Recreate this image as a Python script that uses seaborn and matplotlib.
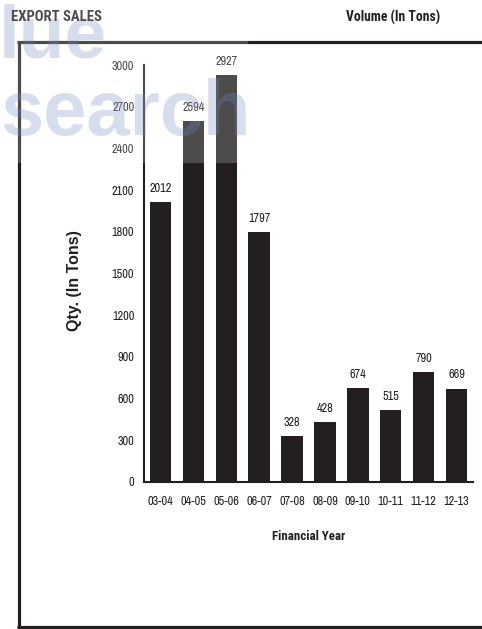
import numpy as np
import pandas as pd
import seaborn as sns
import matplotlib
matplotlib.use("Agg")
import matplotlib.pyplot as plt
from matplotlib.patches import Rectangle
from matplotlib.lines import Line2D

# Export volumes by financial year
years = ["03-04", "04-05", "05-06", "06-07", "07-08",
         "08-09", "09-10", "10-11", "11-12", "12-13"]
volumes = [2012, 2594, 2927, 1797, 328, 428, 674, 515, 790, 669]
y_ticks = [0, 300, 600, 900, 1200, 1500, 1800, 2100, 2400, 2700, 3000]

BAR = "#231f20"
NARROW = ["Liberation Sans Narrow", "Archivo Narrow", "Roboto Condensed",
          "IBM Plex Sans Condensed", "DejaVu Sans"]
NARROW_BOLD = ["Liberation Sans Narrow", "Roboto Condensed",
               "IBM Plex Sans Condensed", "Fira Sans Condensed", "DejaVu Sans"]
WIDE = ["Liberation Sans", "DejaVu Sans"]

sns.set_style("white")
plt.rcParams["font.family"] = NARROW

W, H, DPI = 482, 629, 100
fig = plt.figure(figsize=(W / DPI, H / DPI), dpi=DPI)
fig.patch.set_facecolor("white")

def px(x, y):
    """Image pixel (top-left origin) to figure fraction."""
    return x / W, 1 - y / H

ax = fig.add_axes([144 / W, 1 - 481.7 / H, (473 - 144) / W, (481.7 - 65) / H])

df = pd.DataFrame({"year": years, "volume": volumes})
sns.barplot(data=df, x="year", y="volume", color=BAR, saturation=1,
            width=0.65, ax=ax, zorder=2)
for p in ax.patches:
    p.set_facecolor(BAR)
    p.set_edgecolor("none")

TICK_FS = 8.8
ax.set_xlim(-0.5, len(years) - 0.5)
ax.set_ylim(0, 3000)
ax.set_yticks(y_ticks)
ax.set_yticklabels([str(v) for v in y_ticks], fontsize=TICK_FS, color=BAR,
                   family=NARROW)
ax.set_xticks(range(len(years)))
ax.set_xticklabels(years, fontsize=TICK_FS, color=BAR, family=NARROW)
ax.set_xticks(np.arange(-0.5, len(years)), minor=True)
ax.tick_params(axis="x", which="major", length=0, pad=10)
ax.tick_params(axis="x", which="minor", length=3.5, width=1.5, color=BAR,
               direction="out")
ax.tick_params(axis="y", which="major", length=3, width=2.2, color=BAR,
               direction="out", pad=4)

for side in ("top", "right"):
    ax.spines[side].set_visible(False)
for side in ("left", "bottom"):
    ax.spines[side].set_color(BAR)
    ax.spines[side].set_linewidth(1.5)
ax.grid(False)

ax.set_xlabel("Financial Year", fontsize=9.3, fontweight="bold", color=BAR,
              labelpad=17, family=NARROW_BOLD)
ax.set_ylabel("")

# value labels above the bars
for i, v in enumerate(volumes):
    ax.annotate(str(v), (i, v), xytext=(0, 6), textcoords="offset points",
                ha="center", va="bottom", fontsize=TICK_FS, color=BAR,
                family=NARROW, annotation_clip=False)

# vertical axis title
fig.text(*px(74, 281), "Qty. (In Tons)", rotation=90, ha="center",
         va="center", fontsize=11.5, fontweight="bold", color=BAR,
         family=WIDE)

# faint lettering in the upper-left corner
wash_box = Rectangle((0, 1 - 163 / H), 248 / W, 163 / H,
                     transform=fig.transFigure, facecolor="none",
                     edgecolor="none")
fig.add_artist(wash_box)
mark_kw = dict(ha="left", va="baseline", fontweight="bold", family=WIDE,
               color="#4a6bb0", alpha=0.28, zorder=4)
t1 = fig.text(*px(-1, 58), "lue", fontsize=54, **mark_kw)
t2 = fig.text(*px(0, 135), "search", fontsize=56, **mark_kw)
for t in (t1, t2):
    t.set_clip_path(wash_box)

# header texts
fig.text(*px(11, 17), "EXPORT SALES", ha="left", va="center",
         fontsize=10.5, fontweight="bold", color=BAR, family=NARROW_BOLD,
         zorder=5)
fig.text(*px(440, 17), "Volume (In Tons)", ha="right", va="center",
         fontsize=9.8, fontweight="bold", color=BAR, family=NARROW_BOLD,
         zorder=5)

# page frame: top, left, bottom rules
frame_kw = dict(color=BAR, linewidth=2.3, transform=fig.transFigure,
                solid_capstyle="butt", zorder=3)
fig.add_artist(Line2D([px(17, 0)[0], 1], [px(0, 42)[1]] * 2, **frame_kw))
fig.add_artist(Line2D([px(18.5, 0)[0]] * 2, [px(0, 41)[1], px(0, 627)[1]],
                      **frame_kw))
fig.add_artist(Line2D([px(17, 0)[0], 1], [px(0, 626.5)[1]] * 2, **frame_kw))

# light wash over the upper-left corner
fig.add_artist(Rectangle((0, 1 - 163 / H), 248 / W, 163 / H,
                         transform=fig.transFigure, facecolor="white",
                         alpha=0.2, edgecolor="none", zorder=10))

fig.savefig("out.png", dpi=DPI, facecolor="white")
